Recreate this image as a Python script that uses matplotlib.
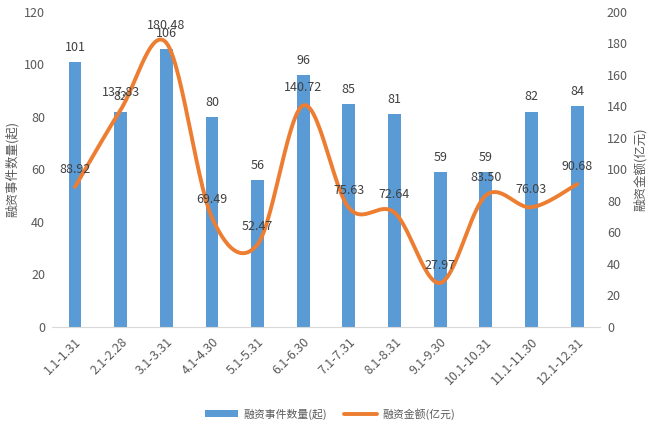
import matplotlib
matplotlib.use("Agg")
import matplotlib.pyplot as plt
import numpy as np

plt.rcParams['font.family'] = ['Noto Sans CJK SC', 'DejaVu Sans']

periods = ["1.1-1.31", "2.1-2.28", "3.1-3.31", "4.1-4.30", "5.1-5.31", "6.1-6.30",
           "7.1-7.31", "8.1-8.31", "9.1-9.30", "10.1-10.31", "11.1-11.30", "12.1-12.31"]
event_counts = [101, 82, 106, 80, 56, 96, 85, 81, 59, 59, 82, 84]
amounts = [88.92, 137.83, 180.48, 69.49, 52.47, 140.72, 75.63, 72.64, 27.97, 83.50, 76.03, 90.68]

BAR_COLOR = "#5B9BD5"
LINE_COLOR = "#ED7D31"
TEXT_COLOR = "#595959"


def smooth(x, y, steps=30):
    # Catmull-Rom curve through the points, like Excel's smoothed line
    x = np.asarray(x, float)
    y = np.asarray(y, float)
    px = np.concatenate([[x[0]], x, [x[-1]]])
    py = np.concatenate([[y[0]], y, [y[-1]]])
    xs, ys = [], []
    t = np.linspace(0, 1, steps)
    for i in range(1, len(px) - 2):
        for arr, out in ((px, xs), (py, ys)):
            p0, p1, p2, p3 = arr[i - 1], arr[i], arr[i + 1], arr[i + 2]
            c1 = p1 + (p2 - p0) / 6
            c2 = p2 - (p3 - p1) / 6
            seg = ((1 - t) ** 3 * p1 + 3 * (1 - t) ** 2 * t * c1
                   + 3 * (1 - t) * t ** 2 * c2 + t ** 3 * p2)
            out.extend(seg)
    return np.array(xs), np.array(ys)


fig = plt.figure(figsize=(6.6, 4.25), dpi=100)
ax = fig.add_axes([0.079, 0.2306, 0.83, 0.7412])
ax2 = ax.twinx()

x = np.arange(len(periods))
bars = ax.bar(x, event_counts, width=0.28, color=BAR_COLOR, label="融资事件数量(起)", zorder=2)
sx, sy = smooth(x, amounts)
line, = ax2.plot(sx, sy, color=LINE_COLOR, lw=2.8, label="融资金额(亿元)", solid_capstyle="round", zorder=3)

ax.set_xlim(-0.5, len(periods) - 0.5)
ax.set_ylim(0, 120)
ax.set_yticks(range(0, 121, 20))
ax2.set_ylim(0, 200)
ax2.set_yticks(range(0, 201, 20))

for a in (ax, ax2):
    for s in a.spines.values():
        s.set_visible(False)
    a.tick_params(length=0, labelsize=9, colors=TEXT_COLOR)
ax.spines['bottom'].set_visible(True)
ax.spines['bottom'].set_color("#D9D9D9")

ax.set_xticks(x)
ax.set_xticklabels(periods, rotation=45, ha="right", rotation_mode="anchor")
ax.tick_params(axis="x", pad=6)
ax.tick_params(axis="y", pad=5)
ax2.tick_params(axis="y", pad=5)

ax.set_ylabel("融资事件数量(起)", fontsize=9, color=TEXT_COLOR, labelpad=4)
ax2.set_ylabel("融资金额(亿元)", fontsize=9, color=TEXT_COLOR, labelpad=4)

for xi, v in zip(x, event_counts):
    ax.annotate(str(v), (xi, v), xytext=(0, 6), textcoords="offset points",
                ha="center", va="bottom", fontsize=9, color="#404040")
for xi, v in zip(x, amounts):
    ax2.annotate(f"{v:.2f}", (xi, v), xytext=(0, 8), textcoords="offset points",
                 ha="center", va="bottom", fontsize=9, color="#404040")

fig.legend(handles=[bars, line], loc="lower center", bbox_to_anchor=(0.5, -0.01),
           ncol=2, frameon=False, fontsize=7.8, labelcolor=TEXT_COLOR,
           handlelength=3.0, handleheight=0.6, handletextpad=0.5, columnspacing=1.6)

fig.savefig("out.png", dpi=100)
